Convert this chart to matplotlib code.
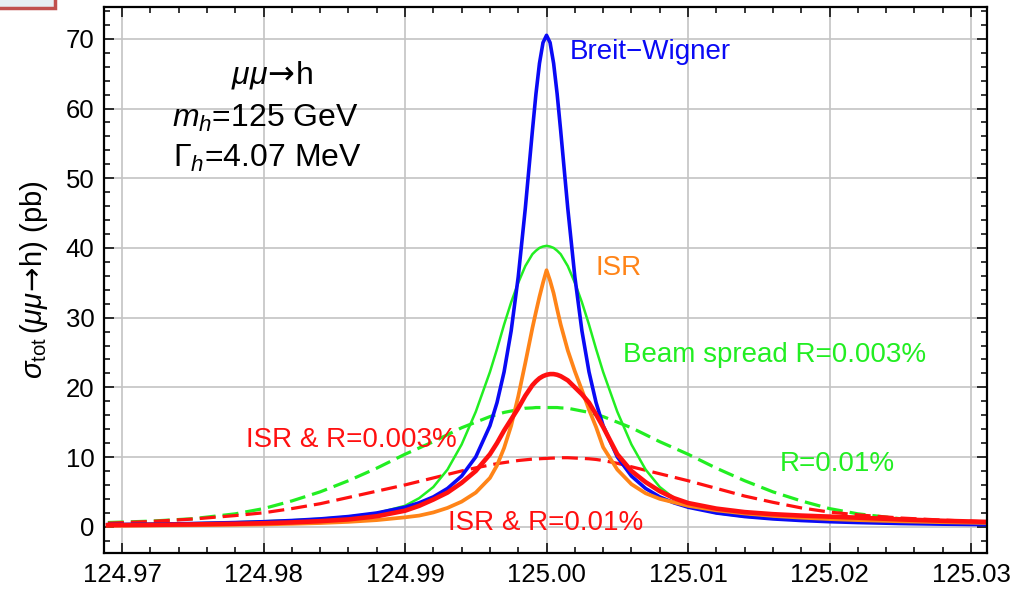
import numpy as np
import matplotlib
matplotlib.use("Agg")
import matplotlib.pyplot as plt
from matplotlib.ticker import MultipleLocator, FormatStrFormatter
from matplotlib.patches import Rectangle

plt.rcParams['font.family'] = ['Liberation Sans', 'DejaVu Sans']
plt.rcParams['mathtext.fontset'] = 'custom'
plt.rcParams['mathtext.rm'] = 'Liberation Sans'
plt.rcParams['mathtext.it'] = 'Liberation Sans:italic'
plt.rcParams['mathtext.bf'] = 'Liberation Sans:bold'
plt.rcParams['mathtext.sf'] = 'DejaVu Sans'   # only used for the arrow glyph

# energy offsets from m_h, in MeV
offset_mev = [-31, -28, -25, -22, -20, -18, -16, -14, -12, -10, -9, -8, -7, -6, -5, -4,
              -3.5, -3, -2.5, -2, -1.5, -1, -0.75, -0.5, -0.25, 0, 0.25, 0.5, 0.75, 1, 1.5, 2,
              2.5, 3, 3.5, 4, 5, 6, 7, 8, 9, 10, 12, 14, 16, 18, 20, 22, 25, 28, 31]

# cross sections in pb
breit_wigner = [0.30, 0.37, 0.46, 0.60, 0.72, 0.89, 1.12, 1.46, 1.97, 2.80, 3.43, 4.28, 5.49, 7.27, 10.02, 14.49,
                17.81, 22.22, 28.10, 35.86, 45.69, 56.79, 62.07, 66.48, 69.45, 70.50, 69.45, 66.48, 62.07, 56.79, 45.69, 35.86,
                28.10, 22.22, 17.81, 14.49, 10.02, 7.27, 5.49, 4.28, 3.43, 2.80, 1.97, 1.46, 1.12, 0.89, 0.72, 0.60, 0.46, 0.37, 0.30]

isr = [0.15, 0.18, 0.22, 0.28, 0.33, 0.42, 0.53, 0.70, 0.95, 1.35, 1.60, 2.05, 2.70, 3.60, 4.90, 7.00,
       8.80, 11.3, 14.5, 18.7, 23.5, 28.5, 30.8, 33.0, 35.0, 36.8, 35.3, 33.5, 31.2, 29.0, 25.3, 22.3,
       19.6, 16.8, 14.3, 11.4, 8.2, 6.1, 4.8, 4.0, 3.5, 3.0, 2.35, 1.9, 1.55, 1.3, 1.1, 0.95, 0.78, 0.65, 0.55]

beam_003 = [0.33, 0.40, 0.50, 0.64, 0.78, 0.93, 1.15, 1.45, 1.95, 3.0, 4.1, 5.7, 8.2, 11.8, 16.5, 22.2,
            25.5, 29.0, 32.2, 35.0, 37.4, 39.1, 39.6, 40.0, 40.2, 40.3, 40.2, 40.0, 39.6, 39.1, 37.4, 35.0,
            32.2, 29.0, 25.5, 22.2, 16.5, 11.8, 8.2, 5.7, 4.1, 3.0, 1.95, 1.45, 1.15, 0.93, 0.78, 0.64, 0.50, 0.40, 0.33]

isr_003 = [0.22, 0.27, 0.33, 0.42, 0.50, 0.62, 0.80, 1.05, 1.50, 2.30, 3.0, 3.9, 4.9, 6.3, 8.0, 10.4,
           12.0, 13.8, 15.4, 17.0, 18.8, 20.3, 20.85, 21.3, 21.6, 21.8, 21.9, 21.9, 21.8, 21.6, 21.0, 20.0,
           19.0, 17.8, 16.1, 14.3, 10.4, 8.0, 6.4, 5.1, 4.1, 3.4, 2.6, 2.1, 1.8, 1.6, 1.45, 1.3, 1.05, 0.85, 0.70]

beam_01 = [0.60, 0.80, 1.15, 1.85, 2.6, 3.7, 5.0, 6.6, 8.4, 10.4, 11.3, 12.2, 13.2, 14.2, 15.0, 15.8,
           16.1, 16.4, 16.6, 16.8, 17.0, 17.05, 17.1, 17.1, 17.1, 17.1, 17.1, 17.1, 17.1, 17.05, 17.0, 16.8,
           16.6, 16.4, 16.1, 15.8, 15.0, 14.2, 13.2, 12.2, 11.3, 10.4, 8.4, 6.6, 5.0, 3.7, 2.6, 1.85, 1.15, 0.80, 0.60]

isr_01 = [0.50, 0.75, 1.10, 1.60, 2.0, 2.6, 3.3, 4.2, 5.1, 6.0, 6.5, 7.0, 7.5, 8.0, 8.45, 8.85,
          9.05, 9.2, 9.35, 9.5, 9.6, 9.7, 9.72, 9.75, 9.78, 9.8, 9.83, 9.85, 9.88, 9.9, 9.9, 9.85,
          9.8, 9.75, 9.65, 9.5, 9.1, 8.6, 8.1, 7.6, 7.1, 6.6, 5.5, 4.4, 3.5, 2.7, 2.1, 1.7, 1.25, 0.95, 0.70]

m_h = 125.0
sqrt_s = m_h + np.array(offset_mev) / 1000.0

BLUE = '#0a0af5'
GREEN = '#22ee22'
ORANGE = '#ff8418'
RED = '#ff1010'

ARROW = r'\mathsf{\rightarrow}'

fig = plt.figure(figsize=(10.13, 5.9), dpi=100)
ax = fig.add_axes([0.1027, 0.0627, 0.8717, 0.9254])

ax.plot(sqrt_s, beam_01, color=GREEN, lw=2.3, dashes=(5, 2.2))
ax.plot(sqrt_s, isr_01, color=RED, lw=2.3, dashes=(5, 2.2))
ax.plot(sqrt_s, beam_003, color=GREEN, lw=1.8)
ax.plot(sqrt_s, breit_wigner, color=BLUE, lw=2.6)
ax.plot(sqrt_s, isr, color=ORANGE, lw=2.7)
ax.plot(sqrt_s, isr_003, color=RED, lw=3.3)

ax.set_xlim(124.96873, 125.03113)
ax.set_ylim(-3.77, 74.56)

ax.xaxis.set_major_locator(MultipleLocator(0.01))
ax.xaxis.set_minor_locator(MultipleLocator(0.002))
ax.xaxis.set_major_formatter(FormatStrFormatter('%.2f'))
ax.yaxis.set_major_locator(MultipleLocator(10))
ax.yaxis.set_minor_locator(MultipleLocator(2))

ax.tick_params(which='both', direction='in', top=True, right=True, width=1.1, colors='black')
ax.tick_params(which='major', length=7.5, labelsize=18.5, pad=7)
ax.tick_params(which='minor', length=4)
for sp in ax.spines.values():
    sp.set_linewidth(1.6)

ax.grid(True, which='major', color='#c4c4c4', lw=1.2)
ax.set_axisbelow(True)

ax.set_ylabel(r'$\sigma_{\mathrm{tot}}\,(\mu\mu\!' + ARROW + r'\!\mathrm{h})$ (pb)', fontsize=21, labelpad=11)

# process and Higgs parameters
ax.text(124.9806, 64.8, r'$\mu\mu\!' + ARROW + r'\!\mathrm{h}$', fontsize=23, ha='center', va='center')
ax.text(124.9801, 58.6, r'$m_h$=125 GeV', fontsize=23, ha='center', va='center')
ax.text(124.9803, 52.9, r'$\Gamma_h$=4.07 MeV', fontsize=23, ha='center', va='center')

# curve labels
ax.text(125.00166, 68.1, 'Breit\u2212Wigner', color=BLUE, fontsize=20, ha='left', va='center')
ax.text(125.00343, 37.1, 'ISR', color=ORANGE, fontsize=20, ha='left', va='center')
ax.text(125.0054, 24.6, 'Beam spread R=0.003%', color=GREEN, fontsize=20, ha='left', va='center')
ax.text(124.98618, 12.4, 'ISR & R=0.003%', color=RED, fontsize=20, ha='center', va='center')
ax.text(125.0165, 9.0, 'R=0.01%', color=GREEN, fontsize=20, ha='left', va='center')
ax.text(124.9999, 0.5, 'ISR & R=0.01%', color=RED, fontsize=20, ha='center', va='center')

# small framed box in the top-left corner
fig.patches.append(Rectangle((-0.01, 1 - 8 / 590), 65 / 1013, 0.05, transform=fig.transFigure,
                             facecolor='#e6eef2', edgecolor='#c0504d', lw=2.5, clip_on=False))

fig.savefig('out.png', dpi=100)
